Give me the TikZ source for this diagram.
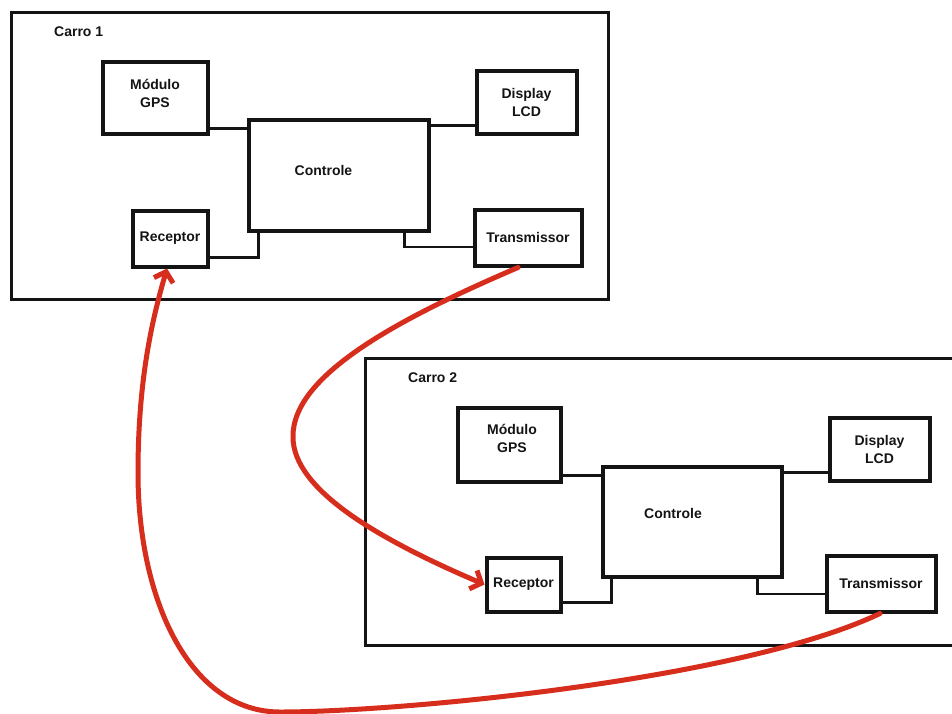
\documentclass[tikz,border=0pt]{standalone}
\usepackage{fontspec}
\setmainfont{Liberation Sans}
\usetikzlibrary{arrows.meta}
\definecolor{arrowred}{RGB}{214,45,28}
\definecolor{ink}{RGB}{20,20,20}
\begin{document}
\begin{tikzpicture}[x=1pt,y=-1pt,
  blk/.style={draw=ink, line width=4pt, fill=white, align=center, inner sep=0pt,
    font=\bfseries\fontsize{14}{18}\selectfont, text=ink},
  ctltext/.style={font=\bfseries\fontsize{14}{18}\selectfont, text=ink, inner sep=0pt, align=center},
  outerbox/.style={draw=ink, line width=3pt, inner sep=0pt},
  car/.style={font=\bfseries\fontsize{14}{17}\selectfont, text=ink, anchor=west, inner sep=0pt},
  wire/.style={draw=ink, line width=2.8pt},
  radio/.style={draw=arrowred, line width=5pt, line cap=round,
    -{Straight Barb[length=9pt,width=20pt,line width=5pt]}}]
\useasboundingbox (0,0) rectangle (952,713);
\clip (0,0) rectangle (952,713);
\fill[white] (0,0) rectangle (952,713);

% ---------- Carro 1 ----------
\node[outerbox, minimum width=597, minimum height=287] (car1) at (309.5,155.5) {};
\node[car] (lab1) at (54,32) {Carro 1};
\node[blk, minimum width=105, minimum height=72,
  label={[ctltext, yshift=4.5pt]center:Módulo\\GPS}] (gps1) at (155,97.5) {};
\node[blk, minimum width=180, minimum height=111,
  label={[ctltext, xshift=-15pt, yshift=5pt]center:Controle}] (ctl1) at (338.5,175) {};
\node[blk, minimum width=100, minimum height=63] (lcd1) at (526.5,102) {Display\\LCD};
\node[blk, minimum width=75, minimum height=56] (rx1) at (170,238.5) {Receptor};
\node[blk, minimum width=107, minimum height=56] (tx1) at (528,237.5) {Transmissor};

\draw[wire] ([yshift=7pt]gps1.south east) -- ([yshift=7pt]gps1.south east -| ctl1.west);
\draw[wire] ([yshift=10pt]lcd1.south west) -- ([yshift=10pt]lcd1.south west -| ctl1.east);
\draw[wire] ([yshift=11pt]rx1.south east) -| ([xshift=12pt]ctl1.south west);
\draw[wire] ([xshift=-26pt]ctl1.south east) |- ([yshift=-9.5pt]tx1.west);

% ---------- Carro 2 ----------
\node[outerbox, minimum width=597, minimum height=287] (car2) at (663.5,501.5) {};
\node[car] (lab2) at (408,378) {Carro 2};
\node[blk, minimum width=103, minimum height=74,
  label={[ctltext, xshift=3pt, yshift=6pt]center:Módulo\\GPS}] (gps2) at (509,444.5) {};
\node[blk, minimum width=179, minimum height=110,
  label={[ctltext, xshift=-19pt, yshift=8.5pt]center:Controle}] (ctl2) at (692,521.5) {};
\node[blk, minimum width=100, minimum height=63] (lcd2) at (879.5,449) {Display\\LCD};
\node[blk, minimum width=74, minimum height=54] (rx2) at (523.5,584.5) {Receptor};
\node[blk, minimum width=109, minimum height=56] (tx2) at (881,583.5) {Transmissor};

\draw[wire] ([yshift=8pt]gps2.south east) -- ([yshift=8pt]gps2.south east -| ctl2.west);
\draw[wire] ([yshift=10pt]lcd2.south west) -- ([yshift=10pt]lcd2.south west -| ctl2.east);
\draw[wire] ([yshift=11pt]rx2.south east) -| ([xshift=11pt]ctl2.south west);
\draw[wire] ([xshift=-26pt]ctl2.south east) |- ([yshift=-10.5pt]tx2.west);

% ---------- radio links ----------
\draw[radio] ([xshift=-10pt]tx1.south) .. controls (400,318) and (292,375) .. (293,437)
  .. controls (293,490) and (380,540) .. (rx2.west);
\draw[radio] ([xshift=-1pt]tx2.south) .. controls (740,680) and (400,712) .. (280,712)
  .. controls (190,712) and (138,600) .. (138,473)
  .. controls (138,380) and (152,320) .. ([xshift=-3pt]rx1.south);
\end{tikzpicture}
\end{document}
